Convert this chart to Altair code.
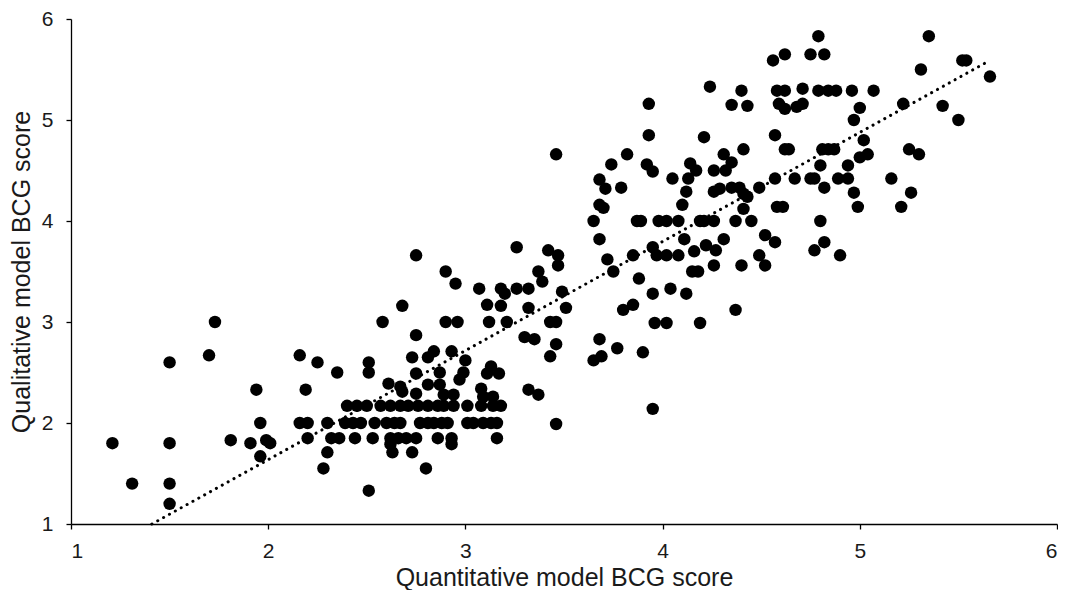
import altair as alt
import pandas as pd

# Region: low scores (x < 2.05)
xa = [1.21, 1.31, 1.50, 1.50, 1.50, 1.50, 1.70, 1.73, 1.81, 1.91, 1.94, 1.96, 1.96, 1.99, 2.01]
ya = [1.80, 1.40, 2.60, 1.80, 1.40, 1.20, 2.67, 3.00, 1.83, 1.80, 2.33, 2.00, 1.67, 1.83, 1.80]

# Region: cluster around 2-3
xb = [2.75, 2.90, 2.95, 3.07, 3.11, 2.68, 2.58, 2.90, 2.96, 3.12, 2.75,
      2.16, 2.25, 2.35, 2.51, 2.51, 2.73, 2.81, 2.84, 2.93, 3.00, 2.75, 2.87, 2.99, 2.97, 3.11, 3.13, 3.17,
      2.19, 2.61, 2.67, 2.68, 2.75, 2.81, 2.87, 2.89, 2.94, 3.08, 3.09, 3.14,
      2.62, 2.63, 2.30, 2.73, 2.93, 2.28, 2.80, 2.51]
yb = [3.66, 3.50, 3.38, 3.33, 3.17, 3.16, 3.00, 3.00, 3.00, 3.00, 2.87,
      2.67, 2.60, 2.50, 2.60, 2.50, 2.65, 2.65, 2.71, 2.71, 2.62, 2.49, 2.50, 2.50, 2.43, 2.49, 2.56, 2.49,
      2.33, 2.39, 2.36, 2.31, 2.29, 2.38, 2.38, 2.28, 2.28, 2.34, 2.26, 2.26,
      1.79, 1.71, 1.71, 1.71, 1.79, 1.55, 1.55, 1.33]

# Rows of equal qualitative score in the 2-3 cluster
row217_x = [2.40, 2.45, 2.50, 2.57, 2.62, 2.67, 2.71, 2.76, 2.81, 2.86, 2.89, 2.94, 3.01, 3.08, 3.14, 3.18]
row200_x = [2.16, 2.20, 2.30, 2.39, 2.43, 2.47, 2.54, 2.60, 2.64, 2.67, 2.77, 2.81, 2.84, 2.88, 2.91,
            3.01, 3.04, 3.09, 3.13, 3.16]
row185_x = [2.20, 2.32, 2.36, 2.44, 2.53, 2.62, 2.66, 2.70, 2.75, 2.86, 2.93, 3.16]

# Region: 3.2-3.5
xc = [3.26, 3.42, 3.47, 3.47, 3.37, 3.39, 3.18, 3.20, 3.26, 3.32, 3.49, 3.18, 3.32, 3.51, 3.21, 3.43,
      3.46, 3.30, 3.35, 3.46, 3.43, 3.32, 3.37, 3.46, 3.46, 3.95]
yc = [3.74, 3.71, 3.66, 3.56, 3.50, 3.40, 3.33, 3.28, 3.33, 3.33, 3.30, 3.16, 3.14, 3.14, 3.00, 3.00,
      3.00, 2.85, 2.83, 2.78, 2.66, 2.33, 2.28, 1.99, 4.66, 2.14]

# Region: 3.6-4.55
xd = [4.24, 4.40, 4.35, 4.43, 3.93, 3.93, 4.21, 4.41, 3.82, 3.74, 3.92, 3.95, 4.14, 4.17, 4.13, 4.31,
      4.35, 4.26, 4.32, 4.05, 3.68, 3.71, 3.79, 4.12, 4.10, 4.26, 4.29, 4.35, 4.39, 4.49, 4.41, 4.43,
      3.68, 3.70, 4.41,
      3.65, 3.87, 3.89, 3.98, 4.02, 4.08, 4.19, 4.21, 4.26, 4.37, 4.45,
      3.68, 4.11, 4.31, 4.52,
      3.72, 3.75, 3.85, 3.95, 3.97, 4.02, 4.08, 4.16, 4.22, 4.27, 4.49, 4.52, 4.26, 4.40, 3.88, 4.15,
      4.18, 3.95, 4.04, 4.12, 3.80, 3.85, 4.37, 3.96, 4.02, 4.19, 3.68, 3.77, 3.90, 3.65, 3.69]
yd = [5.33, 5.29, 5.15, 5.14, 5.16, 4.85, 4.83, 4.71, 4.66, 4.56, 4.56, 4.49, 4.57, 4.50, 4.42, 4.66,
      4.58, 4.50, 4.50, 4.42, 4.41, 4.32, 4.33, 4.29, 4.16, 4.29, 4.32, 4.33, 4.33, 4.33, 4.27, 4.24,
      4.16, 4.13, 4.12,
      4.00, 4.00, 4.00, 4.00, 4.00, 4.00, 4.00, 4.00, 4.00, 4.00, 4.00,
      3.82, 3.82, 3.82, 3.86,
      3.62, 3.50, 3.66, 3.74, 3.66, 3.66, 3.66, 3.70, 3.76, 3.71, 3.66, 3.56, 3.56, 3.56, 3.43, 3.50,
      3.50, 3.28, 3.33, 3.28, 3.12, 3.17, 3.12, 2.99, 2.99, 2.99, 2.83, 2.74, 2.70, 2.62, 2.66]

# Region: high scores (x >= 4.55)
xe = [4.79, 5.35, 4.56, 4.62, 4.75, 4.82, 5.52, 5.54, 5.31, 5.66,
      4.58, 4.62, 4.71, 4.79, 4.84, 4.88, 4.96, 5.07,
      4.59, 4.62, 4.68, 4.71, 5.00, 4.97, 5.22, 5.42, 5.50,
      4.57, 4.62, 4.64, 4.81, 4.84, 4.87, 5.02, 5.00, 5.04, 4.80, 4.94, 5.25, 5.30,
      4.57, 4.67, 4.75, 4.77, 4.89, 4.94, 5.16,
      4.82, 4.97, 5.26, 4.58, 4.61, 4.99, 5.21, 4.80, 4.57, 4.77, 4.82, 4.90]
ye = [5.83, 5.83, 5.59, 5.65, 5.65, 5.65, 5.59, 5.59, 5.50, 5.43,
      5.29, 5.29, 5.31, 5.29, 5.29, 5.29, 5.29, 5.29,
      5.16, 5.11, 5.13, 5.16, 5.12, 5.00, 5.16, 5.14, 5.00,
      4.85, 4.71, 4.71, 4.71, 4.71, 4.71, 4.80, 4.63, 4.66, 4.55, 4.55, 4.71, 4.66,
      4.42, 4.42, 4.42, 4.42, 4.42, 4.42, 4.42,
      4.33, 4.28, 4.28, 4.14, 4.14, 4.14, 4.14, 4.00, 3.79, 3.71, 3.79, 3.66]

# Dotted linear trend line end points
trend_x = [1.41, 5.66]
trend_y = [1.00, 5.59]

quant = (xa + xb + row217_x + row200_x + row185_x + xc + xd + xe)
qual = (ya + yb + [2.17] * len(row217_x) + [2.00] * len(row200_x) + [1.85] * len(row185_x)
        + yc + yd + ye)

df = pd.DataFrame({"quant": quant, "qual": qual})
trend = pd.DataFrame({"quant": trend_x, "qual": trend_y})

FONT = "Liberation Sans"
ticks = [1, 2, 3, 4, 5, 6]

xscale = alt.Scale(domain=[1, 6], nice=False, zero=False)
yscale = alt.Scale(domain=[1, 6], nice=False, zero=False)

xaxis = alt.Axis(values=ticks, format="d", title="Quantitative model BCG score",
                 labelPadding=11, titlePadding=4, tickSize=5)
yaxis = alt.Axis(values=ticks, format="d", title="Qualitative model BCG score",
                 labelPadding=13, titlePadding=7, tickSize=5)

points = alt.Chart(df).mark_circle(size=155, color="#000000", opacity=1).encode(
    x=alt.X("quant:Q", scale=xscale, axis=xaxis),
    y=alt.Y("qual:Q", scale=yscale, axis=yaxis),
)

line = alt.Chart(trend).mark_line(
    color="#000000", strokeWidth=3, strokeDash=[0.1, 6.6], strokeCap="round"
).encode(
    x=alt.X("quant:Q", scale=xscale),
    y=alt.Y("qual:Q", scale=yscale),
)

chart = alt.layer(line, points).properties(
    width=986, height=505,
    padding={"left": 1, "top": 0, "right": 0, "bottom": 0},
).configure_view(stroke=None).configure_axis(
    grid=False,
    domainColor="#000000", domainWidth=1.3,
    tickColor="#000000", tickWidth=1.3,
    labelFont=FONT, labelFontSize=21, labelColor="#1a1a1a",
    titleFont=FONT, titleFontSize=25, titleFontWeight="normal", titleColor="#1a1a1a",
)

chart.save("out.html", embed_options={"renderer": "svg", "actions": False})
